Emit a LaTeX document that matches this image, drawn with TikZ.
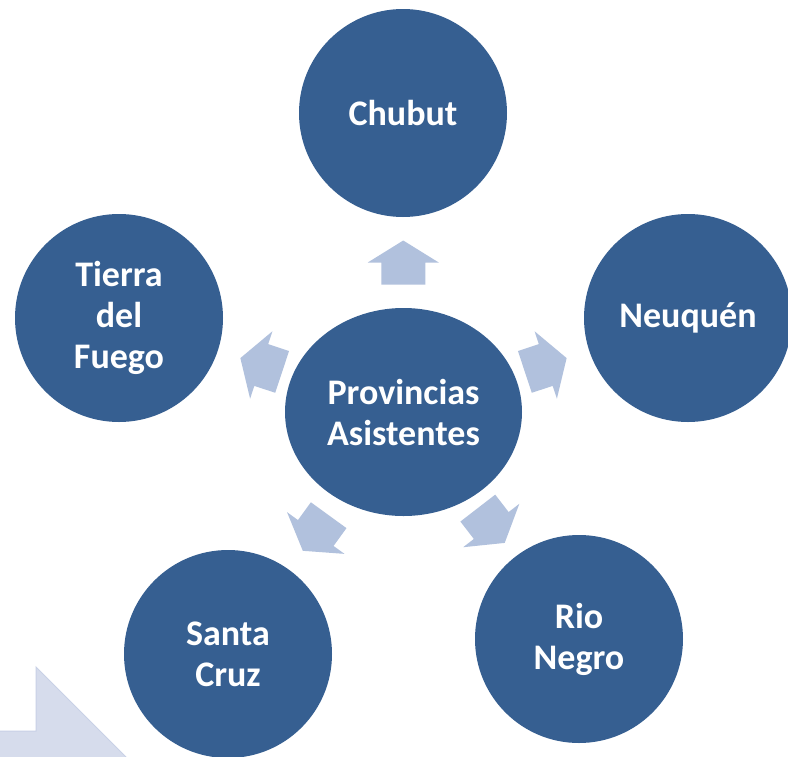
\documentclass[tikz,border=0pt]{standalone}
\usepackage{fontspec}
\setmainfont{Carlito}
\usetikzlibrary{shapes.geometric,calc}
\definecolor{dblue}{HTML}{365F91}
\definecolor{larrow}{HTML}{B1C1DD}
\definecolor{bgarrow}{HTML}{D6DCEC}
\definecolor{bgarrowline}{HTML}{C9D1E6}
\tikzset{
  lbl/.style={text=white, font=\bfseries\fontsize{36}{41}\selectfont, align=center, inner sep=0pt},
  bubble/.style={circle, fill=dblue, minimum size=208pt, lbl},
  hub/.style={ellipse, fill=dblue, minimum width=237pt, minimum height=208pt, lbl},
  blockarrow/.pic={\fill[larrow] (-22,-22) -- (0,-22) -- (0,-35.5) -- (22,0) -- (0,35.5) -- (0,22) -- (-22,22) -- cycle;}
}
\begin{document}
\begin{tikzpicture}[x=1pt,y=-1pt]
\useasboundingbox (0,0) rectangle (788,756);
\clip (0,0) rectangle (788,756);
\fill[white] (0,0) rectangle (788,756);
% background big arrow
\filldraw[fill=bgarrow, draw=bgarrowline, line width=1pt] (-5,731) -- (36,731) -- (36,667) -- (140,771) -- (-5,771) -- cycle;
% nodes
\node[hub] (hub) at (403.5,412) {Provincias\\Asistentes};
\node[bubble] (chubut) at (403,113) {Chubut};
\node[bubble] (neuquen) at (688,318) {Neuquén};
\node[bubble] (tdf) at (119,318) {Tierra\\del\\Fuego};
\node[bubble] (rionegro) at (579,639) {Rio\\Negro};
\node[bubble] (santacruz) at (228,654) {Santa\\Cruz};
% arrows at midpoints between hub and each bubble
\pic[rotate=90] at ($(hub.center)!0.5!(chubut.center)$) {blockarrow};
\pic[rotate=18.3] at ($(hub.center)!0.5!(neuquen.center)$) {blockarrow};
\pic[rotate=161.7] at ($(hub.center)!0.5!(tdf.center)$) {blockarrow};
\pic[rotate=-52.3] at ($(hub.center)!0.5!(rionegro.center)$) {blockarrow};
\pic[rotate=-126] at ($(hub.center)!0.5!(santacruz.center)$) {blockarrow};
\end{tikzpicture}
\end{document}
